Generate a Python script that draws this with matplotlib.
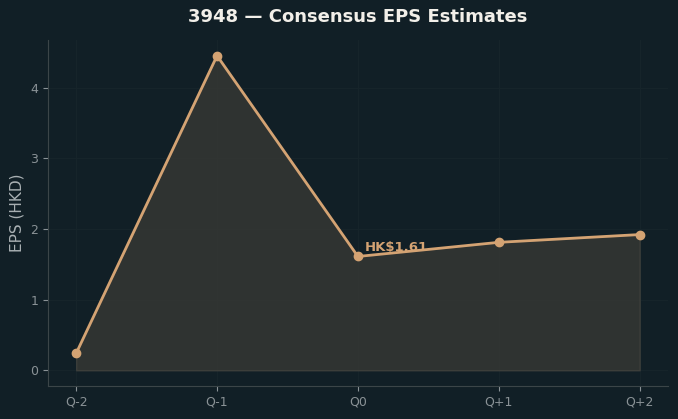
import numpy as np
import matplotlib
matplotlib.use("Agg")
import matplotlib.pyplot as plt

# =============================================================================
# Data
# =============================================================================

quarters = ["Q-2", "Q-1", "Q0", "Q+1", "Q+2"]
eps_values = [0.24, 4.45, 1.61, 1.81, 1.92]
current_label = "HK$1.61"

BG = "#111f26"
LINE = "#d4a373"
MUTED = "#8a9296"
SPINE = "#3b4548"

# =============================================================================
# Plot
# =============================================================================

fig = plt.figure(figsize=(6.78, 4.19), dpi=100, facecolor=BG)
ax = fig.add_axes([0.0708, 0.0788, 0.9142, 0.8257])
ax.set_facecolor(BG)

x = np.arange(len(quarters))
ax.fill_between(x, 0, eps_values, color="#3a3a36", alpha=0.75, edgecolor="#44443f", linewidth=1)
ax.plot(x, eps_values, color=LINE, linewidth=2, marker="o", markersize=6)

cur = quarters.index("Q0")
ax.annotate(current_label, (x[cur], eps_values[cur]), xytext=(5, 4),
            textcoords="offset points", color=LINE, fontsize=9.5, fontweight="bold")

ax.set_xticks(x)
ax.set_xticklabels(quarters)
ax.set_yticks([0, 1, 2, 3, 4])
ax.tick_params(colors=MUTED, labelsize=9)
for side in ["top", "right"]:
    ax.spines[side].set_visible(False)
for side in ["left", "bottom"]:
    ax.spines[side].set_color(SPINE)
ax.grid(True, color="#16242a", linewidth=0.8)
ax.set_axisbelow(True)

ax.set_ylabel("EPS (HKD)", color="#a9b0b3", fontsize=11)
ax.set_title("3948 \u2014 Consensus EPS Estimates", color="#f2efe9",
             fontsize=13, fontweight="bold", pad=13)

fig.savefig("out.png", dpi=100, facecolor=BG)
